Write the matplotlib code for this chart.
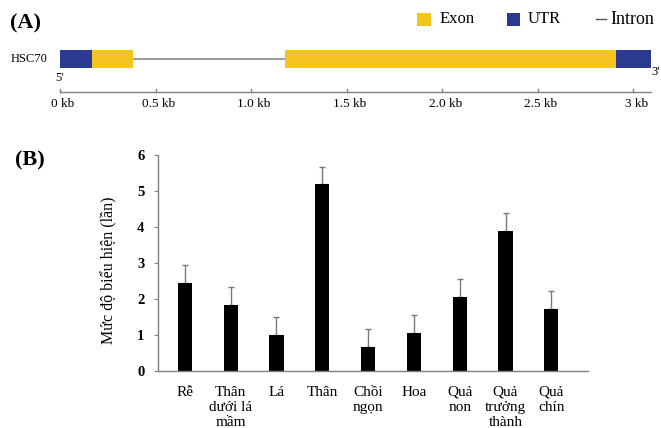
import matplotlib
matplotlib.use('Agg')
import matplotlib.pyplot as plt
import matplotlib.patches as mpatches

plt.rcParams['font.family'] = ['Liberation Serif', 'DejaVu Serif']

# ---- Panel A data: gene structure (kb) ----
segments = [  # (start, end, kind)
    (0.0, 0.169, 'UTR'),
    (0.169, 0.384, 'Exon'),
    (0.384, 1.177, 'Intron'),
    (1.177, 2.908, 'Exon'),
    (2.908, 3.094, 'UTR'),
]
scale_ticks = [0, 0.5, 1.0, 1.5, 2.0, 2.5, 3.0]
scale_labels = ['0 kb', '0.5 kb', '1.0 kb', '1.5 kb', '2.0 kb', '2.5 kb', '3 kb']

# ---- Panel B data: expression level ----
tissues = ['Rễ', 'Thân\ndưới lá\nmầm', 'Lá', 'Thân', 'Chồi\nngọn', 'Hoa',
           'Quả\nnon', 'Quả\ntrưởng\nthành', 'Quả\nchín']
expression = [2.43, 1.84, 0.99, 5.18, 0.67, 1.06, 2.04, 3.89, 1.73]
errors = [0.50, 0.49, 0.49, 0.49, 0.50, 0.48, 0.52, 0.50, 0.50]

EXON = '#F4C51E'
UTR = '#2B3990'
W, H = 661, 428

fig = plt.figure(figsize=(W / 100, H / 100), dpi=100)

# ============================================================================
# Panel A: overlay axes, x in kb, y in pixels (top down)
# ============================================================================
px_per_kb = 191.1
x0 = 60
axA = fig.add_axes([0, 0, 1, 1])
axA.set_xlim(-x0 / px_per_kb, (W - x0) / px_per_kb)
axA.set_ylim(H, 0)
axA.axis('off')
axA.patch.set_alpha(0)

bar_top, bar_bot = 50, 68
mid = (bar_top + bar_bot) / 2
for s, e, kind in segments:
    if kind == 'Intron':
        axA.plot([s, e], [mid, mid], color='#9a9a9a', lw=1.4, zorder=1)
    else:
        axA.add_patch(mpatches.Rectangle((s, bar_top), e - s, bar_bot - bar_top,
                                         facecolor=EXON if kind == 'Exon' else UTR,
                                         edgecolor='none', zorder=2))

axA.text(-12 / px_per_kb, mid, 'HSC70', ha='right', va='center', fontsize=9)
axA.text(-5 / px_per_kb, 78, "5'", ha='left', va='center', fontsize=9)
axA.text((W - 1 - x0) / px_per_kb, 72, "3'", ha='right', va='center', fontsize=9)

# scale bar
scale_y = 92.3
axA.plot([0, 3.094], [scale_y, scale_y], color='#808080', lw=1)
for t, lab in zip(scale_ticks, scale_labels):
    axA.plot([t, t], [scale_y, scale_y - 3], color='#808080', lw=1)
    axA.text(t + 3 / px_per_kb, 104, lab, ha='center', va='center', fontsize=9.5)

# legend
leg_y = 19
axA.add_patch(mpatches.Rectangle(((417 - x0) / px_per_kb, leg_y - 6.5), 14 / px_per_kb, 13,
                                 facecolor=EXON, edgecolor='none'))
axA.text((440 - x0) / px_per_kb, leg_y, 'Exon', ha='left', va='center', fontsize=12)
axA.add_patch(mpatches.Rectangle(((507 - x0) / px_per_kb, leg_y - 6.5), 13 / px_per_kb, 13,
                                 facecolor=UTR, edgecolor='none'))
axA.text((528 - x0) / px_per_kb, leg_y, 'UTR', ha='left', va='center', fontsize=12)
axA.plot([(596 - x0) / px_per_kb, (606 - x0) / px_per_kb], [leg_y, leg_y], color='#555555', lw=1)
axA.text((610 - x0) / px_per_kb, leg_y, 'Intron', ha='left', va='center', fontsize=13)

axA.text(-50 / px_per_kb, 23, '(A)', ha='left', va='center', fontsize=16, fontweight='bold')
axA.text(-45 / px_per_kb, 160, '(B)', ha='left', va='center', fontsize=16, fontweight='bold')

# ============================================================================
# Panel B: bar chart
# ============================================================================
left, right, y0px, y6px = 158.3, 588, 370.7, 155
axB = fig.add_axes([left / W, (H - y0px) / H, (right - left) / W, (y0px - y6px) / H])
x = list(range(len(tissues)))
axB.bar(x, expression, width=0.31, color='black', zorder=2)
axB.errorbar(x, expression, yerr=[[0] * len(errors), errors], fmt='none',
             ecolor='#7a7a7a', elinewidth=1, capsize=2.2, capthick=1, zorder=1)

axB.set_xlim(-0.58, 8.8)
axB.set_ylim(0, 6)
axB.set_yticks(range(7))
axB.set_yticklabels([str(i) for i in range(7)], fontsize=10.5, fontweight='bold')
axB.set_xticks(x)
axB.set_xticklabels(tissues, fontsize=11, linespacing=1.2, va='top')
axB.tick_params(axis='x', length=0, pad=11)
axB.tick_params(axis='y', length=3, color='#808080', pad=7)
for side in ['top', 'right']:
    axB.spines[side].set_visible(False)
for side in ['left', 'bottom']:
    axB.spines[side].set_color('#808080')
    axB.spines[side].set_linewidth(1)
axB.set_ylabel('Mức độ biểu hiện (lần)', fontsize=11.5)
axB.yaxis.set_label_coords(-0.096, 0.467)

plt.savefig('out.png', dpi=100)
plt.close()
